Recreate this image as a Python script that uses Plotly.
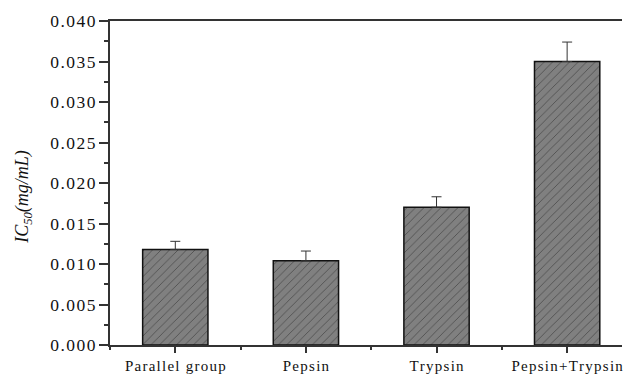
import plotly.graph_objects as go

categories = ["Parallel group", "Pepsin", "Trypsin", "Pepsin+Trypsin"]
values = [0.0118, 0.0104, 0.0170, 0.0350]
errors = [0.0010, 0.0012, 0.0013, 0.0024]
ytick_vals = [0.000, 0.005, 0.010, 0.015, 0.020, 0.025, 0.030, 0.035, 0.040]
ytick_labels = ["0.000", "0.005", "0.010", "0.015", "0.020", "0.025", "0.030", "0.035", "0.040"]

HAIR = "\u200a"

def spaced(s, sep):
    return sep.join(list(s))

xpos = list(range(len(categories)))

fig = go.Figure()
fig.add_trace(go.Bar(
    x=xpos, y=values, width=0.5,
    marker=dict(color="#808080",
                line=dict(color="#111111", width=1.5),
                pattern=dict(shape="/", fgcolor="#222222", bgcolor="#808080",
                             size=6, solidity=0.15)),
    error_y=dict(type="data", symmetric=False, array=errors,
                 arrayminus=[0] * len(errors), color="#333333",
                 thickness=1, width=5),
))

font = "Liberation Serif, Times New Roman, serif"
fig.update_layout(
    width=623, height=374,
    margin=dict(l=110, r=0, t=21, b=25),
    plot_bgcolor="white", paper_bgcolor="white",
    showlegend=False,
    font=dict(family=font, color="#111111"),
    xaxis=dict(
        range=[-0.5, 3.42],
        tickvals=xpos,
        ticktext=[spaced(c, HAIR) for c in categories],
        tickfont=dict(size=15, family=font),
        ticklabeloverflow="allow",
        ticks="outside", ticklen=6, tickwidth=1.5, tickcolor="#333333",
        showline=True, linecolor="#333333", linewidth=2, mirror=True,
        showgrid=False, zeroline=False,
        minor=dict(tickvals=[-0.5, 0.5, 1.5, 2.5], ticks="outside",
                   ticklen=3, tickwidth=1.5, tickcolor="#333333", showgrid=False),
    ),
    yaxis=dict(
        range=[0, 0.04],
        tickvals=ytick_vals,
        ticktext=[spaced(t, HAIR) for t in ytick_labels],
        tickfont=dict(size=17.5, family=font),
        ticks="outside", ticklen=9, tickwidth=1.5, tickcolor="#333333",
        showline=True, linecolor="#333333", linewidth=2,
        showgrid=False, zeroline=False,
        minor=dict(dtick=0.0025, tick0=0, ticks="outside", ticklen=4,
                   tickwidth=1.5, tickcolor="#333333", showgrid=False),
    ),
)

fig.add_annotation(
    text="<i>IC<sub>50</sub>(mg/mL)</i>",
    xref="paper", yref="y", x=-0.168, y=0.0183,
    xanchor="center", yanchor="middle", textangle=-90,
    showarrow=False, font=dict(size=18, family=font, color="#111111"),
)

fig.write_html("out.html")
